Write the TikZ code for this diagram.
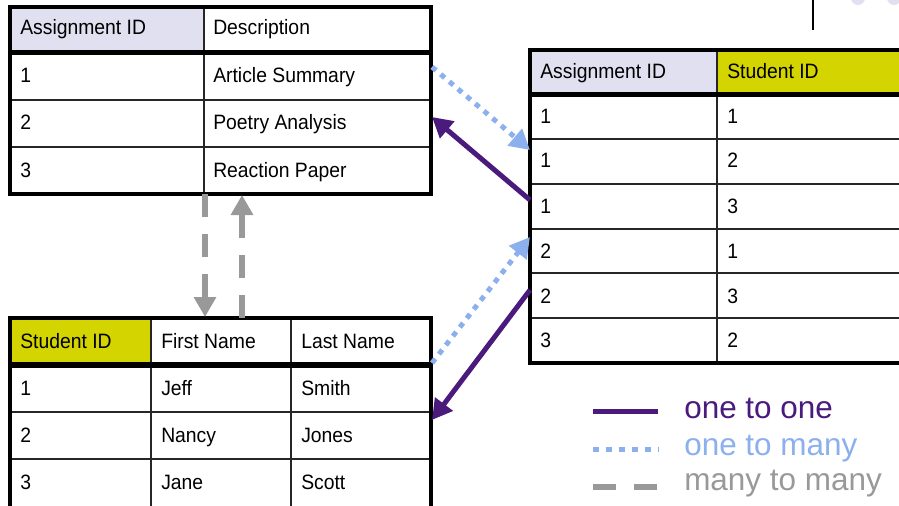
\documentclass[tikz,border=0pt]{standalone}
\usepackage{fontspec}
\setmainfont{Liberation Sans}
\newfontfamily\cellfont[FakeStretch=0.93]{Liberation Sans}
\usetikzlibrary{arrows.meta}
\definecolor{lav}{HTML}{E0E0F0}
\definecolor{ylw}{HTML}{D4D400}
\definecolor{pur}{HTML}{4A1A7C}
\definecolor{lblue}{HTML}{8CB0EE}
\definecolor{gry}{HTML}{999999}
\begin{document}
\begin{tikzpicture}[x=0.75pt,y=-0.75pt,
 cell/.style={anchor=base west, inner sep=0pt, font=\cellfont\fontsize{15.6pt}{18pt}\selectfont},
 thinrule/.style={line width=1.1pt, draw=black!85},
 outerrule/.style={line width=2.6pt, draw=black},
 hdrrule/.style={line width=3.8pt, draw=black},
 tip/.style={-{Triangle[length=15pt,width=16pt]}},
 onetoone/.style={draw=pur, line width=3.75pt},
 onetomany/.style={draw=lblue, line width=3.75pt, dash pattern=on 4pt off 4.5pt},
 manytomany/.style={draw=gry, line width=4.5pt, dash pattern=on 17pt off 13pt},
 legend/.style={anchor=base west, inner sep=0pt, font=\fontsize{23.6pt}{27pt}\selectfont}]
\useasboundingbox (0,0) rectangle (899,506);
\clip (0,0) rectangle (899,506);
\fill[white] (0,0) rectangle (899,506);

% decorations top right
\draw[line width=1.1pt] (813,0) -- (813,30);
\fill[lav] (858,-2) circle[radius=5.25pt];
\fill[lav] (894,-2) circle[radius=5.25pt];

% ---------- Table 1: assignments ----------
\fill[lav] (10,7) rectangle (204,52);
\draw[thinrule] (204,7) -- (204,194);
\draw[thinrule] (10,100) -- (431,100);
\draw[thinrule] (10,147) -- (431,147);
\draw[hdrrule] (10,52.5) -- (431,52.5);
\draw[outerrule] (10,7) rectangle (431,194);
\node[cell] (a-h1) at (20,35) {Assignment ID};
\node[cell] (a-h2) at (213,35) {Description};
\node[cell] (a-11) at (20,83) {1};
\node[cell] (a-12) at (213,83) {Article Summary};
\node[cell] (a-21) at (20,130) {2};
\node[cell] (a-22) at (213,130) {Poetry Analysis};
\node[cell] (a-31) at (20,177) {3};
\node[cell] (a-32) at (213,177) {Reaction Paper};

% ---------- Table 2: students ----------
\fill[ylw] (10,318) rectangle (151,365);
\draw[thinrule] (151,318) -- (151,510);
\draw[thinrule] (291,318) -- (291,510);
\draw[thinrule] (10,412) -- (431,412);
\draw[thinrule] (10,459) -- (431,459);
\draw[hdrrule] (10,365) -- (431,365);
\draw[outerrule] (10,512) -- (10,318) -- (431,318) -- (431,512);
\node[cell] (s-h1) at (20,348) {Student ID};
\node[cell] (s-h2) at (161,348) {First Name};
\node[cell] (s-h3) at (301,348) {Last Name};
\node[cell] (s-11) at (20,395) {1};
\node[cell] (s-12) at (161,395) {Jeff};
\node[cell] (s-13) at (301,395) {Smith};
\node[cell] (s-21) at (20,442) {2};
\node[cell] (s-22) at (161,442) {Nancy};
\node[cell] (s-23) at (301,442) {Jones};
\node[cell] (s-31) at (20,489) {3};
\node[cell] (s-32) at (161,489) {Jane};
\node[cell] (s-33) at (301,489) {Scott};

% ---------- Table 3: link table ----------
\fill[lav] (530,50) rectangle (717,95);
\fill[ylw] (717,50) rectangle (910,95);
\draw[thinrule] (717,50) -- (717,363);
\foreach \yy in {139,184,229,273,318}
  \draw[thinrule] (530,\yy) -- (910,\yy);
\draw[hdrrule] (530,94.5) -- (910,94.5);
\draw[outerrule] (910,50) -- (530,50) -- (530,363) -- (910,363);
\node[cell] (l-h1) at (540,79) {Assignment ID};
\node[cell] (l-h2) at (727,79) {Student ID};
\node[cell] (l-11) at (540,124) {1};
\node[cell] (l-12) at (727,124) {1};
\node[cell] (l-21) at (540,168) {1};
\node[cell] (l-22) at (727,168) {2};
\node[cell] (l-31) at (540,213) {1};
\node[cell] (l-32) at (727,213) {3};
\node[cell] (l-41) at (540,258) {2};
\node[cell] (l-42) at (727,258) {1};
\node[cell] (l-51) at (540,303) {2};
\node[cell] (l-52) at (727,303) {3};
\node[cell] (l-61) at (540,347) {3};
\node[cell] (l-62) at (727,347) {2};

% ---------- connector end points ----------
\coordinate (a1out) at (432,67);
\coordinate (a2in)  at (432,117);
\coordinate (l2in)  at (530,150);
\coordinate (l3out) at (530,200);
\coordinate (l4in)  at (530,237);
\coordinate (l5out) at (530,290);
\coordinate (s1out) at (432,363);
\coordinate (s2in)  at (432,420);
\coordinate (adown) at (205,194);
\coordinate (sdown) at (205,317);
\coordinate (sup)   at (242,318);
\coordinate (aup)   at (242,195);

% ---------- connectors ----------
\draw[onetomany,tip] (a1out) -- (l2in);
\draw[onetoone,tip] (l3out) -- (a2in);
\draw[onetomany,tip] (s1out) -- (l4in);
\draw[onetoone,tip] (l5out) -- (s2in);
\draw[manytomany,tip] (adown) -- (sdown);
\draw[manytomany,tip] (sup) -- (aup);

% ---------- legend ----------
\coordinate (k1a) at (593,411); \coordinate (k1b) at (658,411);
\coordinate (k2a) at (593,449); \coordinate (k2b) at (658,449);
\coordinate (k3a) at (593,487); \coordinate (k3b) at (658,487);
\draw[onetoone] (k1a) -- (k1b);
\draw[draw=lblue, line width=3.75pt, dash pattern=on 4.5pt off 5.2pt] (k2a) -- (k2b);
\draw[manytomany, line width=4pt, dash pattern=on 17pt off 14pt] (k3a) -- (k3b);
\node[legend, text=pur] (k1t) at (684,418) {one to one};
\node[legend, text=lblue] (k2t) at (684,455) {one to many};
\node[legend, text=gry] (k3t) at (684,490) {many to many};
\end{tikzpicture}
\end{document}
